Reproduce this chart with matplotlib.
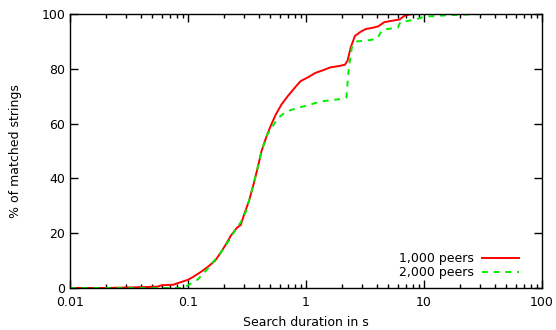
import matplotlib
matplotlib.use("Agg")
import matplotlib.pyplot as plt
from matplotlib.ticker import LogLocator, FixedLocator, NullFormatter

# search duration (s) vs % of matched strings
t_1000 = [0.01, 0.02, 0.04, 0.055, 0.06, 0.075, 0.085, 0.1, 0.11, 0.13, 0.15,
          0.17, 0.19, 0.21, 0.23, 0.26, 0.28, 0.3, 0.33, 0.36, 0.39, 0.42,
          0.46, 0.5, 0.55, 0.62, 0.7, 0.8, 0.9, 1.05, 1.2, 1.4, 1.6, 1.9,
          2.14, 2.25, 2.4, 2.6, 2.9, 3.2, 3.7, 4.1, 4.6, 5.3, 6.2, 6.9, 8,
          20, 100]
p_1000 = [0, 0, 0.3, 0.5, 1, 1.2, 2, 3, 4, 6, 8,
          10, 13, 16, 19, 22, 23, 27, 32, 38, 44, 50,
          55, 59, 63, 67, 70, 73, 75.5, 77, 78.5, 79.5, 80.5, 81,
          81.5, 83, 88, 92, 93.5, 94.5, 95, 95.5, 97, 97.5, 98, 99.5, 100,
          100, 100]

t_2000 = [0.01, 0.05, 0.09, 0.1, 0.12, 0.14, 0.16, 0.19, 0.22, 0.25, 0.28,
          0.31, 0.34, 0.38, 0.42, 0.47, 0.52, 0.58, 0.66, 0.75, 0.9, 1.1,
          1.3, 1.6, 2.0, 2.2, 2.3, 2.45, 2.7, 3.5, 4.0, 4.4, 4.8, 6.0, 6.3,
          8.5, 10, 15, 30, 100]
p_2000 = [0, 0, 0, 1, 3, 6, 9, 13, 17, 21, 24,
          28, 34, 42, 50, 56, 59, 62, 64, 65, 66, 67,
          68, 68.5, 69, 69.5, 80, 88, 90, 90.5, 91, 94, 94.5, 95, 97,
          98, 99, 99.5, 100, 100]

plt.rcParams['font.family'] = 'DejaVu Sans'
plt.rcParams['font.size'] = 9

fig = plt.figure(figsize=(5.56, 3.3), dpi=100)
ax = fig.add_axes([70 / 556, 42 / 330, 472 / 556, 274 / 330])

ax.plot(t_1000, p_1000, color='#ff0000', lw=1.4, label='1,000 peers')
ax.plot(t_2000, p_2000, color='#00ee00', lw=1.4, ls=(0, (3, 3)), label='2,000 peers')

ax.set_xscale('log')
ax.set_xlim(0.01, 100)
ax.set_ylim(0, 100)
ax.xaxis.set_major_locator(FixedLocator([0.01, 0.1, 1, 10, 100]))
ax.set_xticklabels(['0.01', '0.1', '1', '10', '100'])
ax.xaxis.set_minor_locator(LogLocator(base=10, subs=range(2, 10)))
ax.xaxis.set_minor_formatter(NullFormatter())
ax.set_yticks([0, 20, 40, 60, 80, 100])

ax.tick_params(which='both', direction='in', top=True, right=True, colors='black')
ax.tick_params(which='major', length=6, width=1)
ax.tick_params(which='minor', length=3, width=1)
ax.tick_params(axis='x', pad=6)
for s in ax.spines.values():
    s.set_linewidth(1)

ax.set_xlabel('Search duration in s', labelpad=5)
ax.set_ylabel('% of matched strings', labelpad=14)

ax.legend(loc='lower right', frameon=False, markerfirst=False,
          handlelength=3, handletextpad=0.6, labelspacing=0.1,
          borderaxespad=0.3, bbox_to_anchor=(0.97, 0.0))

fig.savefig('out.png', dpi=100)
